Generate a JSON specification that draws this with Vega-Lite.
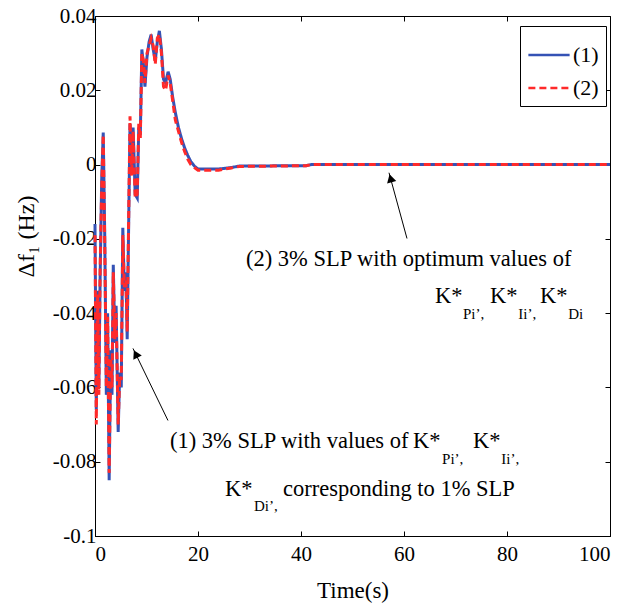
{
  "$schema": "https://vega.github.io/schema/vega-lite/v6.json",
  "width": 515,
  "height": 520,
  "autosize": {"type": "none"},
  "padding": {"left": 95, "top": 16, "right": 19, "bottom": 77},
  "background": "white",
  "config": {
    "font": "Liberation Serif, Times New Roman, serif",
    "view": {"stroke": "black", "strokeWidth": 1},
    "axis": {"grid": false, "domainColor": "black", "tickColor": "black", "labelColor": "black", "titleColor": "black", "labelFont": "Liberation Serif, Times New Roman, serif", "titleFont": "Liberation Serif, Times New Roman, serif", "labelFontSize": 21, "titleFontSize": 23, "titleFontWeight": "normal", "tickSize": -5, "domainWidth": 1, "tickWidth": 1}
  },
  "datasets": {
    "curves": [
      {"s": "(1)", "t": 0.0, "v": -0.016}, {"s": "(1)", "t": 0.25, "v": -0.066}, {"s": "(1)", "t": 0.5, "v": -0.034}, {"s": "(1)", "t": 0.75, "v": -0.060},
      {"s": "(1)", "t": 1.0, "v": -0.030}, {"s": "(1)", "t": 1.3, "v": -0.004}, {"s": "(1)", "t": 1.6, "v": 0.0086}, {"s": "(1)", "t": 1.9, "v": -0.020},
      {"s": "(1)", "t": 2.2, "v": -0.062}, {"s": "(1)", "t": 2.45, "v": -0.040}, {"s": "(1)", "t": 2.75, "v": -0.085}, {"s": "(1)", "t": 3.05, "v": -0.050},
      {"s": "(1)", "t": 3.3, "v": -0.062}, {"s": "(1)", "t": 3.55, "v": -0.027}, {"s": "(1)", "t": 3.85, "v": -0.048}, {"s": "(1)", "t": 4.1, "v": -0.038},
      {"s": "(1)", "t": 4.5, "v": -0.072}, {"s": "(1)", "t": 4.8, "v": -0.056}, {"s": "(1)", "t": 5.1, "v": -0.060}, {"s": "(1)", "t": 5.4, "v": -0.017},
      {"s": "(1)", "t": 5.7, "v": -0.034}, {"s": "(1)", "t": 6.0, "v": -0.029}, {"s": "(1)", "t": 6.25, "v": -0.047}, {"s": "(1)", "t": 6.5, "v": -0.020},
      {"s": "(1)", "t": 6.8, "v": 0.011}, {"s": "(1)", "t": 7.1, "v": -0.002}, {"s": "(1)", "t": 7.4, "v": 0.010}, {"s": "(1)", "t": 7.8, "v": -0.008},
      {"s": "(1)", "t": 8.2, "v": -0.009}, {"s": "(1)", "t": 8.5, "v": 0.010}, {"s": "(1)", "t": 8.8, "v": 0.008}, {"s": "(1)", "t": 9.1, "v": 0.031},
      {"s": "(1)", "t": 9.4, "v": 0.027}, {"s": "(1)", "t": 9.7, "v": 0.021}, {"s": "(1)", "t": 10.1, "v": 0.029}, {"s": "(1)", "t": 10.5, "v": 0.033},
      {"s": "(1)", "t": 10.9, "v": 0.035}, {"s": "(1)", "t": 11.3, "v": 0.031}, {"s": "(1)", "t": 11.7, "v": 0.028}, {"s": "(1)", "t": 12.1, "v": 0.033},
      {"s": "(1)", "t": 12.5, "v": 0.036}, {"s": "(1)", "t": 12.9, "v": 0.031}, {"s": "(1)", "t": 13.3, "v": 0.023}, {"s": "(1)", "t": 13.7, "v": 0.022},
      {"s": "(1)", "t": 14.2, "v": 0.025}, {"s": "(1)", "t": 14.6, "v": 0.023}, {"s": "(1)", "t": 15.1, "v": 0.018}, {"s": "(1)", "t": 15.6, "v": 0.014},
      {"s": "(1)", "t": 16.2, "v": 0.010}, {"s": "(1)", "t": 16.8, "v": 0.007}, {"s": "(1)", "t": 17.4, "v": 0.0045}, {"s": "(1)", "t": 18.0, "v": 0.0025},
      {"s": "(1)", "t": 18.6, "v": 0.0008}, {"s": "(1)", "t": 19.3, "v": -0.0004}, {"s": "(1)", "t": 20.0, "v": -0.0012}, {"s": "(1)", "t": 24.0, "v": -0.0012},
      {"s": "(1)", "t": 26.5, "v": -0.0008}, {"s": "(1)", "t": 28.0, "v": -0.0004}, {"s": "(1)", "t": 41.0, "v": -0.0003}, {"s": "(1)", "t": 42.0, "v": 0.0},
      {"s": "(1)", "t": 100.0, "v": 0.0},
      {"s": "(2)", "t": 0.0, "v": -0.019}, {"s": "(2)", "t": 0.25, "v": -0.070}, {"s": "(2)", "t": 0.5, "v": -0.035}, {"s": "(2)", "t": 0.75, "v": -0.062},
      {"s": "(2)", "t": 1.0, "v": -0.028}, {"s": "(2)", "t": 1.3, "v": -0.006}, {"s": "(2)", "t": 1.6, "v": 0.008}, {"s": "(2)", "t": 1.9, "v": -0.022},
      {"s": "(2)", "t": 2.2, "v": -0.060}, {"s": "(2)", "t": 2.45, "v": -0.041}, {"s": "(2)", "t": 2.75, "v": -0.083}, {"s": "(2)", "t": 3.05, "v": -0.052},
      {"s": "(2)", "t": 3.3, "v": -0.060}, {"s": "(2)", "t": 3.55, "v": -0.029}, {"s": "(2)", "t": 3.85, "v": -0.047}, {"s": "(2)", "t": 4.1, "v": -0.040},
      {"s": "(2)", "t": 4.5, "v": -0.070}, {"s": "(2)", "t": 4.8, "v": -0.057}, {"s": "(2)", "t": 5.1, "v": -0.058}, {"s": "(2)", "t": 5.4, "v": -0.019},
      {"s": "(2)", "t": 5.7, "v": -0.033}, {"s": "(2)", "t": 6.0, "v": -0.031}, {"s": "(2)", "t": 6.25, "v": -0.045}, {"s": "(2)", "t": 6.5, "v": -0.018},
      {"s": "(2)", "t": 6.8, "v": 0.013}, {"s": "(2)", "t": 7.1, "v": -0.003}, {"s": "(2)", "t": 7.4, "v": 0.009}, {"s": "(2)", "t": 7.8, "v": -0.009},
      {"s": "(2)", "t": 8.2, "v": -0.008}, {"s": "(2)", "t": 8.5, "v": 0.011}, {"s": "(2)", "t": 8.8, "v": 0.007}, {"s": "(2)", "t": 9.1, "v": 0.030},
      {"s": "(2)", "t": 9.4, "v": 0.028}, {"s": "(2)", "t": 9.7, "v": 0.022}, {"s": "(2)", "t": 10.1, "v": 0.030}, {"s": "(2)", "t": 10.5, "v": 0.032},
      {"s": "(2)", "t": 10.9, "v": 0.034}, {"s": "(2)", "t": 11.3, "v": 0.032}, {"s": "(2)", "t": 11.7, "v": 0.027}, {"s": "(2)", "t": 12.1, "v": 0.034},
      {"s": "(2)", "t": 12.5, "v": 0.035}, {"s": "(2)", "t": 12.9, "v": 0.030}, {"s": "(2)", "t": 13.3, "v": 0.021}, {"s": "(2)", "t": 13.7, "v": 0.020},
      {"s": "(2)", "t": 14.2, "v": 0.024}, {"s": "(2)", "t": 14.6, "v": 0.022}, {"s": "(2)", "t": 15.1, "v": 0.017}, {"s": "(2)", "t": 15.6, "v": 0.012},
      {"s": "(2)", "t": 16.2, "v": 0.009}, {"s": "(2)", "t": 16.8, "v": 0.006}, {"s": "(2)", "t": 17.4, "v": 0.0035}, {"s": "(2)", "t": 18.0, "v": 0.0015},
      {"s": "(2)", "t": 18.6, "v": 0.0}, {"s": "(2)", "t": 19.3, "v": -0.0008}, {"s": "(2)", "t": 20.0, "v": -0.0015}, {"s": "(2)", "t": 24.0, "v": -0.0015},
      {"s": "(2)", "t": 26.5, "v": -0.0009}, {"s": "(2)", "t": 28.0, "v": -0.0005}, {"s": "(2)", "t": 41.0, "v": -0.0003}, {"s": "(2)", "t": 42.0, "v": 0.0},
      {"s": "(2)", "t": 100.0, "v": 0.0}
    ],
    "mainText": [
      {"label": "(2) 3% SLP with optimum values of", "t": 29.32, "v": -0.0272},
      {"label": "K*", "t": 66.02, "v": -0.0372},
      {"label": "K*", "t": 76.7, "v": -0.0372},
      {"label": "K*", "t": 86.4, "v": -0.0372},
      {"label": "(1) 3% SLP with values of", "t": 14.56, "v": -0.0762},
      {"label": "K*", "t": 61.75, "v": -0.0762},
      {"label": "K*", "t": 73.4, "v": -0.0762},
      {"label": "K*", "t": 25.24, "v": -0.0891},
      {"label": "corresponding to 1% SLP", "t": 36.50, "v": -0.0891}
    ],
    "subText": [
      {"label": "Pi’,", "t": 71.46, "v": -0.0415},
      {"label": "Ii’,", "t": 82.2, "v": -0.0415},
      {"label": "Di", "t": 91.9, "v": -0.0415},
      {"label": "Pi’,", "t": 67.4, "v": -0.0805},
      {"label": "Ii’,", "t": 78.9, "v": -0.0805},
      {"label": "Di’,", "t": 30.87, "v": -0.0934}
    ],
    "arrows": [
      {"t": 14.17, "v": -0.0689, "t2": 7.38, "v2": -0.0495},
      {"t": 60.58, "v": -0.0199, "t2": 57.09, "v2": -0.0022}
    ]
  },
  "layer": [
    {
      "data": {"name": "curves"},
      "mark": {"type": "line", "strokeWidth": 3},
      "encoding": {
        "x": {"field": "t", "type": "quantitative", "scale": {"domain": [0, 100], "nice": false},
          "axis": {"values": [0, 20, 40, 60, 80, 100], "title": "Time(s)", "labelPadding": 12, "titlePadding": 15}},
        "y": {"field": "v", "type": "quantitative", "scale": {"domain": [-0.1, 0.04], "nice": false, "zero": false},
          "axis": {"values": [-0.1, -0.08, -0.06, -0.04, -0.02, 0, 0.02, 0.04], "title": "Δf₁ (Hz)",
            "labelExpr": "datum.value == 0 ? '0' : replace(format(datum.value, '.2~f'), '−', '-')",
            "labelPadding": 4, "titleX": -81, "titleY": 220, "titleAngle": 270, "titleBaseline": "top", "titleAlign": "center", "titleFontSize": 24}},
        "color": {"field": "s", "type": "nominal", "scale": {"domain": ["(1)", "(2)"], "range": ["#3552b5", "#ff2a2a"]},
          "legend": {"title": null, "orient": "none", "legendX": 425, "legendY": 10, "strokeColor": "black", "fillColor": "white", "padding": 7, "symbolType": "stroke", "symbolSize": 1700, "symbolStrokeWidth": 2.5, "labelFontSize": 22, "labelFont": "Liberation Serif, Times New Roman, serif", "labelColor": "black", "rowPadding": 0, "labelOffset": 2}},
        "strokeDash": {"field": "s", "type": "nominal", "scale": {"domain": ["(1)", "(2)"], "range": [[1, 0], [7, 4]]},
          "legend": {"title": null, "orient": "none", "legendX": 425, "legendY": 10, "strokeColor": "black", "fillColor": "white", "padding": 7, "symbolType": "stroke", "symbolSize": 1700, "symbolStrokeWidth": 2.5, "labelFontSize": 22, "labelFont": "Liberation Serif, Times New Roman, serif", "labelColor": "black", "rowPadding": 0, "labelOffset": 2}}
      }
    },
    {
      "data": {"values": [{"t": 0, "v": 0}]},
      "mark": {"type": "point", "opacity": 0},
      "encoding": {
        "x": {"field": "t", "type": "quantitative", "scale": {"domain": [0, 100], "nice": false},
          "axis": {"orient": "top", "values": [0, 20, 40, 60, 80, 100], "labels": false, "title": null, "domain": false}},
        "y": {"field": "v", "type": "quantitative", "scale": {"domain": [-0.1, 0.04], "nice": false, "zero": false},
          "axis": {"orient": "right", "values": [-0.1, -0.08, -0.06, -0.04, -0.02, 0, 0.02, 0.04], "labels": false, "title": null, "domain": false}}
      }
    },
    {
      "data": {"name": "arrows"},
      "mark": {"type": "rule", "color": "black", "strokeWidth": 1},
      "encoding": {
        "x": {"field": "t", "type": "quantitative", "axis": null, "scale": {"domain": [0, 100], "nice": false}},
        "y": {"field": "v", "type": "quantitative", "axis": null, "scale": {"domain": [-0.1, 0.04], "nice": false, "zero": false}},
        "x2": {"field": "t2"},
        "y2": {"field": "v2"}
      }
    },
    {
      "data": {"values": [{"t": 7.9, "v": -0.051}]},
      "mark": {"type": "point", "shape": "triangle-up", "filled": true, "color": "black", "opacity": 1, "size": 90, "angle": 333},
      "encoding": {
        "x": {"field": "t", "type": "quantitative", "axis": null, "scale": {"domain": [0, 100], "nice": false}},
        "y": {"field": "v", "type": "quantitative", "axis": null, "scale": {"domain": [-0.1, 0.04], "nice": false, "zero": false}}
      }
    },
    {
      "data": {"values": [{"t": 57.4, "v": -0.0037}]},
      "mark": {"type": "point", "shape": "triangle-up", "filled": true, "color": "black", "opacity": 1, "size": 90, "angle": 345},
      "encoding": {
        "x": {"field": "t", "type": "quantitative", "axis": null, "scale": {"domain": [0, 100], "nice": false}},
        "y": {"field": "v", "type": "quantitative", "axis": null, "scale": {"domain": [-0.1, 0.04], "nice": false, "zero": false}}
      }
    },
    {
      "data": {"name": "mainText"},
      "mark": {"type": "text", "align": "left", "baseline": "alphabetic", "fontSize": 22.5, "font": "Liberation Serif, Times New Roman, serif", "color": "black"},
      "encoding": {
        "x": {"field": "t", "type": "quantitative", "axis": null, "scale": {"domain": [0, 100], "nice": false}},
        "y": {"field": "v", "type": "quantitative", "axis": null, "scale": {"domain": [-0.1, 0.04], "nice": false, "zero": false}},
        "text": {"field": "label"}
      }
    },
    {
      "data": {"name": "subText"},
      "mark": {"type": "text", "align": "left", "baseline": "alphabetic", "fontSize": 15, "font": "Liberation Serif, Times New Roman, serif", "color": "black"},
      "encoding": {
        "x": {"field": "t", "type": "quantitative", "axis": null, "scale": {"domain": [0, 100], "nice": false}},
        "y": {"field": "v", "type": "quantitative", "axis": null, "scale": {"domain": [-0.1, 0.04], "nice": false, "zero": false}},
        "text": {"field": "label"}
      }
    }
  ],
  "resolve": {"axis": {"x": "independent", "y": "independent"}}
}
